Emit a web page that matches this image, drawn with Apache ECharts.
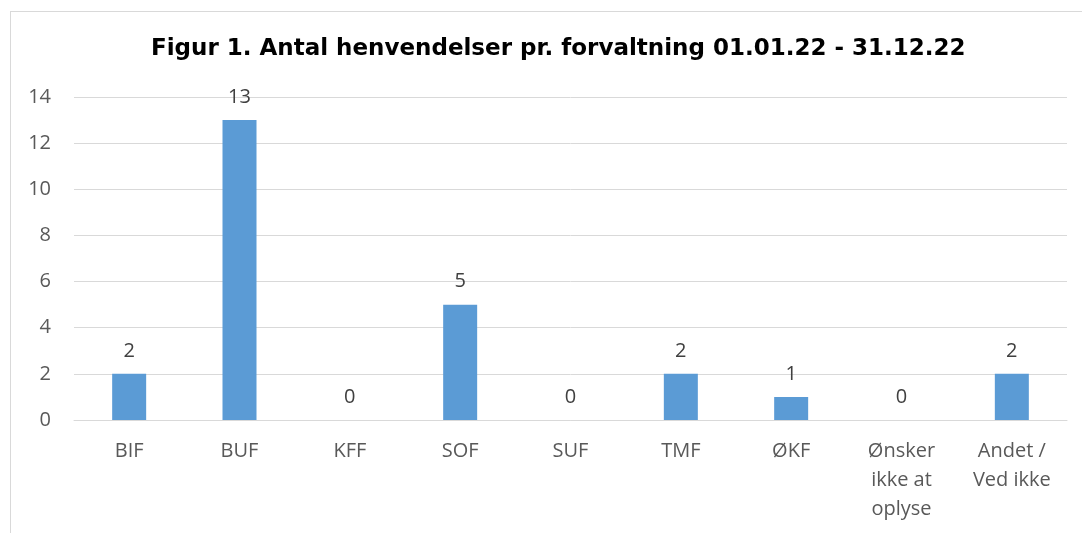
<!DOCTYPE html>
<html lang="da">
	<head>
		<meta charset="UTF-8">
		<title>Figur 1</title>
		<script src="https://cdn.jsdelivr.net/npm/echarts@6/dist/echarts.min.js"></script>
		<style type="text/css">
			html, body {
				margin: 0;
				padding: 0;
				background: #fff;
				overflow: hidden;
			}
			#frame {
				position: absolute;
				left: 10px;
				top: 11px;
				width: 1100px;
				height: 560px;
				border: 1px solid #d9d9d9;
			}
			#main {
				position: absolute;
				left: 0;
				top: 0;
				width: 1082px;
				height: 533px;
			}
		</style>
	</head>
	<body>
		<div id="frame"></div>
		<div id="main"></div>
		<script>
			// data
			var categories = ['BIF', 'BUF', 'KFF', 'SOF', 'SUF', 'TMF', 'ØKF', 'Ønsker\nikke at\noplyse', 'Andet /\nVed ikke'];
			var henvendelser = [2, 13, 0, 5, 0, 2, 1, 0, 2];
			var yTicks = [0, 2, 4, 6, 8, 10, 12, 14];

			var myChart = echarts.init(document.getElementById('main'));

			var option = {
				backgroundColor: 'transparent',
				animation: false,
				title: {
					text: 'Figur 1. Antal henvendelser pr. forvaltning 01.01.22 - 31.12.22',
					left: 146,
					top: 33,
					textStyle: {
						fontFamily: 'DejaVu Sans',
						fontWeight: 'bold',
						fontSize: 23,
						color: '#000'
					}
				},
				grid: {
					left: 74,
					right: 15,
					top: 97,
					bottom: 113
				},
				xAxis: {
					type: 'category',
					data: categories,
					axisLine: { lineStyle: { color: '#d9d9d9', width: 1 } },
					axisTick: { show: false },
					axisLabel: {
						color: '#595959',
						fontFamily: 'Open Sans',
						fontSize: 20,
						lineHeight: 29,
						margin: 17,
						interval: 0
					}
				},
				yAxis: {
					type: 'value',
					min: yTicks[0],
					max: yTicks[yTicks.length - 1],
					interval: 2,
					axisLine: { show: false },
					axisTick: { show: false },
					splitLine: { lineStyle: { color: '#d9d9d9', width: 1 } },
					axisLabel: {
						color: '#595959',
						fontFamily: 'Open Sans',
						fontSize: 20,
						margin: 23
					}
				},
				series: [{
					type: 'bar',
					data: henvendelser,
					barWidth: 34,
					itemStyle: { color: '#5b9bd5' },
					label: {
						show: true,
						position: 'top',
						distance: 13,
						color: '#404040',
						fontFamily: 'Open Sans',
						fontSize: 20
					}
				}]
			};

			myChart.setOption(option);
		</script>
	</body>
</html>
